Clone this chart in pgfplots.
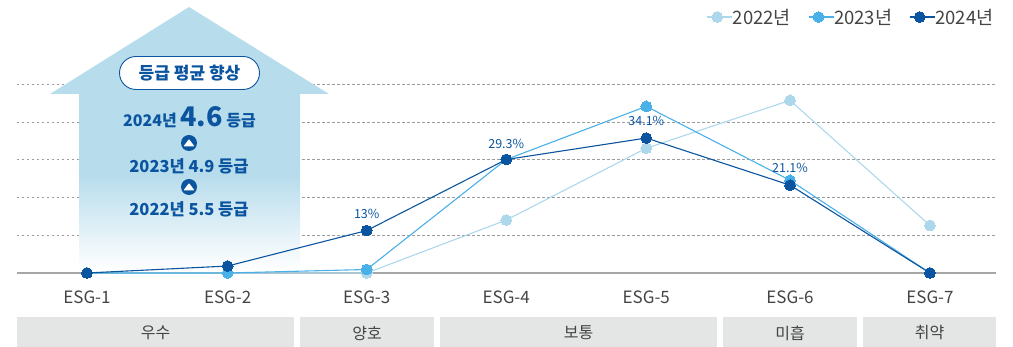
\documentclass[border=0pt]{standalone}
\usepackage{pgfplots}
\pgfplotsset{compat=1.18}
\usepackage{fontspec}
\setmainfont{Noto Sans CJK KR}
\definecolor{c22}{HTML}{ADD8EC}
\definecolor{c23}{HTML}{4AB0E8}
\definecolor{c24}{HTML}{0B55A0}
\definecolor{arrowc}{HTML}{B7DCEC}
\definecolor{gridc}{HTML}{9C9C9C}
\definecolor{basec}{HTML}{A6A6A6}
\definecolor{barc}{HTML}{E4E5E5}
\definecolor{txt}{HTML}{444444}
\pgfplotstableread{
idx y22 y23 y24
0 0 0 0
1.001 0 0 1.85
1.991 0 0.93 11.26
2.984 14.04 30.1 30.1
3.981 33.1 44.2 35.8
5.004 45.8 24.6 23.3
6 12.6 0 0
}\esgdata
\pgfplotsset{base/.style={
  at={(17pt,74pt)},anchor=south west,scale only axis,
  width=979pt,height=188.5pt,
  xmin=-0.498,xmax=6.47,ymin=0,ymax=50,clip=false}}
\newcommand{\py}[1]{\fpeval{347-(#1)}pt}
\newcommand{\catbar}[3]{\fill[barc] (#1pt,\py{317}) rectangle (#2pt,0pt);
  \node[font=\fontsize{16}{16}\selectfont,text=txt] at ({(#1+#2)/2*1pt},\py{333}) {#3};}
\newcommand{\updot}[1]{\fill[c24] (189pt,\py{#1}) circle (8pt);
  \fill[white,rounded corners=0.8pt] (183.5pt,\py{#1+3.4}) -- (194.5pt,\py{#1+3.4}) -- (189pt,\py{#1-4}) -- cycle;}
\begin{document}
\begin{tikzpicture}
\useasboundingbox (0,0) rectangle (1013pt,347pt);
% grid layer
\begin{axis}[base,axis line style={draw=none},
  axis x line=none,
  ytick={10,20,30,40,50},yticklabels={},
  major tick length=0pt,
  ymajorgrids,
  grid style={gridc,line width=0.9pt,dash pattern=on 2.5pt off 2.5pt},
  extra y ticks={0},extra y tick labels={},
  extra y tick style={grid style={basec,line width=1.3pt,solid}}]
\end{axis}
% arrow
\fill[arrowc] (189pt,\py{7}) -- (329pt,\py{94}) -- (300pt,\py{94}) -- (300pt,\py{175}) -- (79pt,\py{175}) -- (79pt,\py{94}) -- (50pt,\py{94}) -- cycle;
\shade[top color=arrowc,bottom color=white] (79pt,\py{174.8}) rectangle (300pt,\py{270});
\node[draw=c24,fill=white,line width=0.9pt,rounded corners=16.5pt,minimum width=140pt,minimum height=33pt,inner sep=0pt,
  text=c24,font=\fontsize{17}{17}\selectfont\bfseries] at (189.5pt,\py{73}) {등급 평균 향상};
\node[text=c24,font=\fontsize{16}{16}\selectfont\bfseries,inner sep=0pt] at (189.5pt,\py{117.5}) {2024년 {\fontsize{27}{27}\selectfont 4.6} 등급};
\updot{143}
\node[text=c24,font=\fontsize{16.5}{16.5}\selectfont\bfseries,inner sep=0pt] at (189pt,\py{166}) {2023년 4.9 등급};
\updot{187}
\node[text=c24,font=\fontsize{16.5}{16.5}\selectfont\bfseries,inner sep=0pt] at (189pt,\py{209}) {2022년 5.5 등급};
% category bars
\catbar{17}{294}{우수}
\catbar{300}{434}{양호}
\catbar{440}{717}{보통}
\catbar{723}{857}{미흡}
\catbar{863}{996}{취약}
% data layer
\begin{axis}[base,
  axis y line=none,axis x line=bottom,x axis line style={draw=none,-},
  xtick={0,1.001,1.991,2.984,3.981,5.004,6},
  xticklabels={ESG-1,ESG-2,ESG-3,ESG-4,ESG-5,ESG-6,ESG-7},
  major tick length=0pt,
  xticklabel style={font=\fontsize{17}{17}\selectfont,text=txt,inner sep=0pt,anchor=center,yshift=-24pt},
  legend columns=3,
  legend style={at={(rel axis cs:0.9975,1.358)},anchor=east,draw=none,fill=none,inner sep=0pt,
    font=\fontsize{18.5}{18.5}\selectfont,text=txt,
    /tikz/every even column/.append style={column sep=17pt},
    nodes={inner sep=0pt,text depth=0pt}},
  legend image code/.code={\draw[mark repeat=2,mark phase=2,#1] plot coordinates {(0pt,0pt)(10pt,0pt)(20pt,0pt)};\path (0pt,0pt)--(25pt,0pt);},
  every axis plot/.append style={line width=1.1pt,mark=*,mark size=5.4pt}]
\addplot[c22,mark options={fill=c22,draw=c22,line width=0pt}] table[x=idx,y=y22] {\esgdata};
\addplot[c23,mark options={fill=c23,draw=c23,line width=0pt}] table[x=idx,y=y23] {\esgdata};
\addplot[c24,mark options={fill=c24,draw=c24,line width=0pt}] table[x=idx,y=y24] {\esgdata};
\legend{2022년,2023년,2024년}
\tikzset{lab/.style={text=c24,font=\fontsize{12.5}{12.5}\selectfont,inner sep=0pt,yshift=17pt}}
\node[lab] at (axis cs:1.991,11.26) {13\%};
\node[lab,yshift=-1.5pt] at (axis cs:2.984,30.1) {29.3\%};
\node[lab] at (axis cs:3.981,35.8) {34.1\%};
\node[lab,yshift=0.5pt] at (axis cs:5.004,23.3) {21.1\%};
\end{axis}
\end{tikzpicture}
\end{document}
